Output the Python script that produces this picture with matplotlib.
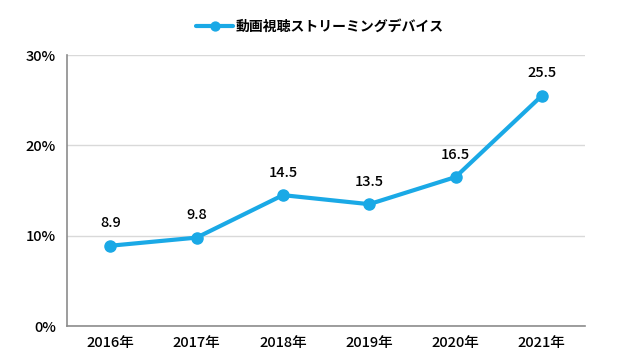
import matplotlib
matplotlib.use("Agg")
import matplotlib.pyplot as plt
from matplotlib.ticker import FuncFormatter

plt.rcParams['font.family'] = ['Noto Sans CJK JP', 'DejaVu Sans']

years = ["2016年", "2017年", "2018年", "2019年", "2020年", "2021年"]
share = [8.9, 9.8, 14.5, 13.5, 16.5, 25.5]
series_name = "動画視聴ストリーミングデバイス"

line_color = "#1AA9E6"

fig = plt.figure(figsize=(6.4, 3.6), dpi=100)
ax = fig.add_axes([0.105, 0.094, 0.809, 0.753])

x = list(range(len(years)))
ax.plot(x, share, color=line_color, linewidth=3.0, marker='o', markersize=8,
        label=series_name, solid_capstyle='round')

for xi, v in zip(x, share):
    ax.annotate(f"{v}", (xi, v), xytext=(0, 11), textcoords='offset points',
                ha='center', va='bottom', fontsize=10.5, fontweight='medium')

ax.set_xlim(-0.5, len(years) - 0.5)
ax.set_ylim(0, 30)
ax.set_yticks([0, 10, 20, 30])
ax.yaxis.set_major_formatter(FuncFormatter(lambda v, p: f"{int(v)}%"))
ax.set_xticks(x)
ax.set_xticklabels(years)
ax.tick_params(axis='both', length=0, labelsize=10.5, pad=7)
ax.tick_params(axis='y', pad=8)
for lab in ax.get_xticklabels() + ax.get_yticklabels():
    lab.set_fontweight('medium')

ax.grid(axis='y', color='#D9D9D9', linewidth=1)
ax.set_axisbelow(True)
for s in ['top', 'right']:
    ax.spines[s].set_visible(False)
for s in ['left', 'bottom']:
    ax.spines[s].set_color('#8C8C8C')
    ax.spines[s].set_linewidth(1.2)

fig.legend(loc='center', bbox_to_anchor=(0.5, 0.925), frameon=False,
           handlelength=2.6, handletextpad=0.2, markerscale=0.8,
           prop={'weight': 'bold', 'size': 10})

fig.savefig("out.png", dpi=100, facecolor='white')
